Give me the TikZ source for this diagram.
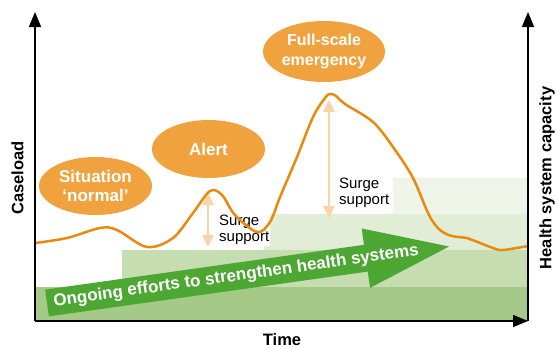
\documentclass[tikz,border=0pt]{standalone}
\usepackage{fontspec}
\setmainfont{Liberation Sans}
\usepackage{tikz}
\usetikzlibrary{arrows.meta,shapes.geometric}
\definecolor{curvec}{HTML}{E98A10}
\definecolor{phasec}{HTML}{F0A23E}
\definecolor{surgec}{HTML}{FBD3A6}
\definecolor{arrowg}{HTML}{4DA733}
\definecolor{band1}{HTML}{A5CA87}
\definecolor{band2}{HTML}{C6DDB1}
\definecolor{band3}{HTML}{E1EDD6}
\definecolor{band4}{HTML}{EEF5E8}
\newcommand{\surge}[2]{\draw[line width=2.5pt,surgec,{Triangle[length=12pt,width=11pt]}-{Triangle[length=12pt,width=11pt]}] (#1) -- (#2);}
\tikzset{
	phase/.style={ellipse,fill=phasec,text=white,align=center,inner sep=0pt,font=\fontsize{17}{19}\selectfont\bfseries,minimum width=113pt,minimum height=58pt},
	surgetext/.style={anchor=west,align=left,fill=white,inner sep=1pt,font=\fontsize{15}{16}\selectfont},
	axis/.style={line width=1.5pt,-{Triangle[length=15pt,width=12pt]}},
	axislabel/.style={font=\fontsize{16.5}{18}\selectfont\bfseries}
}

\begin{document}
\begin{tikzpicture}[x=1pt,y=-1pt]
		\useasboundingbox (0,0) rectangle (559,348);
		\fill[band1] (35,287) rectangle (528,321);
		\fill[band2] (122,250) rectangle (528,287);
		\fill[band3] (264,214) rectangle (528,250);
		\fill[band4] (393,178) rectangle (528,214);
		
		\begin{scope}[shift={(47,303)},rotate=8]
			\fill[arrowg] (0,-13.5) -- (322,-13.5) -- (322,-30) -- (406,0) -- (322,30) -- (322,13.5) -- (0,13.5) -- cycle;
			\node[transform shape,text=white,font=\fontsize{17}{20}\selectfont\bfseries] (g) at (191,0) {Ongoing efforts to strengthen health systems};
		\end{scope}
		
		\node[surgetext] (s1) at (218,230) {Surge\\support};
		\node[surgetext] (s2) at (338,193) {Surge\\support};
		
		\coordinate (a1) at (208,193);
		\coordinate (a2) at (208,247);
		\coordinate (b1) at (329,100);
		\coordinate (b2) at (329,218);
		\surge{a1}{a2}
		\surge{b1}{b2}
		
		\draw[curvec,line width=2.5pt] plot[smooth,tension=0.55] coordinates {(35,243) (67,238) (100,228) (117,230) (147,247) (173,238) (193,213) (210,191) (222,195) (235,215) (257,232) (270,222) (280,197) (297,157) (313,117) (325,98) (330,94) (336,96) (345,104) (373,122) (393,147) (413,178) (429,215) (440,230) (452,236) (467,238) (475,241) (493,248) (503,250) (528,246)};
		
		\node[phase] (n) at (95.5,186) {Situation\\`normal'};
		\node[phase] (al) at (208.5,149) {Alert};
		\node[phase,minimum width=122pt,minimum height=61pt,font=\fontsize{16}{20}\selectfont\bfseries] (em) at (324,51.5) {Full-scale\\emergency};
		
		\coordinate (o) at (35,321);
		\coordinate (yt) at (35,12);
		\coordinate (xe) at (528,321);
		\coordinate (zt) at (528,12);
		\draw[axis] (o) -- (yt);
		\draw[axis] (o) -- (xe);
		\draw[axis] (xe) -- (zt);
		
		\node[axislabel,rotate=90] (cl) at (17.5,178) {Caseload};
		\node[axislabel,rotate=90] (hc) at (547,178) {Health system capacity};
		\node[axislabel] (t) at (282,340) {Time};
	\end{tikzpicture}
\end{document}
